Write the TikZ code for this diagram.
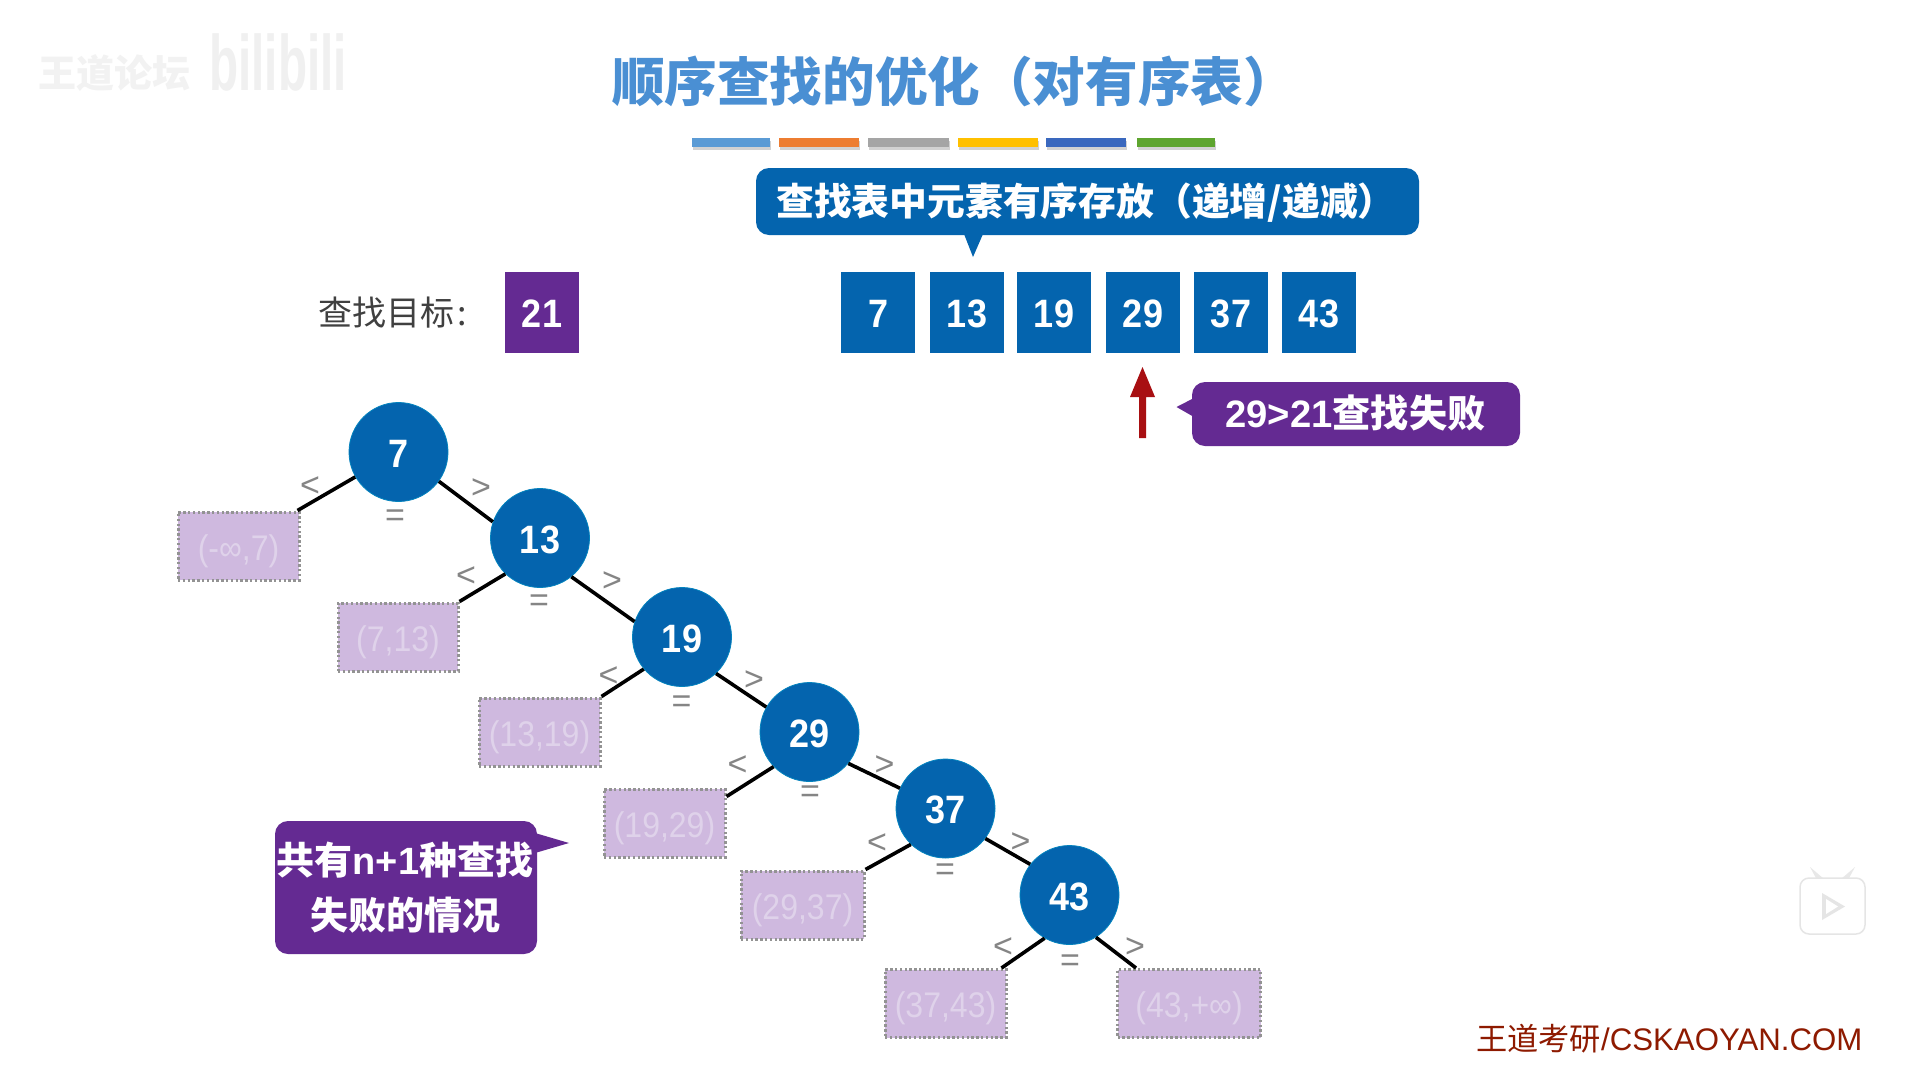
\documentclass[tikz,border=0pt]{standalone}
\usepackage{fontspec}
\setmainfont{Liberation Sans}
\newfontfamily\cjk{Noto Sans CJK SC}
\newcommand{\fsz}[1]{\fontsize{#1}{#1}\selectfont}
\newcommand{\numtxt}[1]{\raisebox{-15pt}[0pt][0pt]{\scalebox{1.0}[1.1]{#1}}}
\newcommand{\ivl}[1]{\raisebox{-14pt}[0pt][0pt]{\scalebox{0.97}[1.08]{#1}}}
\definecolor{nodeblue}{HTML}{0464AE}
\definecolor{deeppurple}{HTML}{642A92}
\definecolor{paleviolet}{HTML}{CFB9DF}
\definecolor{palertext}{HTML}{DFD2EA}
\definecolor{titleblue}{HTML}{4A8FD3}
\definecolor{arrowred}{HTML}{A80F12}
\definecolor{markgray}{HTML}{858585}
\definecolor{brandred}{HTML}{8E1A00}
\tikzset{
  x=1pt,y=-1pt,
  cellbox/.style={rectangle,fill=nodeblue,minimum width=74pt,minimum height=81pt,inner sep=0pt,text=white,font=\bfseries\fsz{36}},
  keybox/.style={cellbox,fill=deeppurple},
  circnode/.style={circle,fill=nodeblue,draw=nodeblue!80!cyan,line width=0.8pt,minimum size=99pt,inner sep=0pt,text=white,font=\bfseries\fsz{36}},
  failbox/.style={rectangle,fill=paleviolet,draw=gray!85,line width=3pt,dash pattern=on 2.4pt off 2.4pt,inner sep=0pt,minimum height=68pt,text=palertext,font=\fsz{33}},
  edgeline/.style={line width=3.6pt,black},
  relmark/.style={text=markgray,font=\fsz{34},inner sep=0pt},
  calloutbody/.style={rectangle,rounded corners=13pt,inner sep=0pt},
  calltext/.style={text=white,inner sep=0pt,align=center,font=\bfseries\fsz{38}},
  barbase/.style={fill=gray!35},
}
\begin{document}
\begin{tikzpicture}
\useasboundingbox (0,0) rectangle (1905,1066);
\fill[white] (0,0) rectangle (1905,1066);

% watermarks
\node[text=black!5,font=\cjk\bfseries\fsz{38},inner sep=0pt] (wm1) at (114,73) {王道论坛};
\node[text=black!6,font=\bfseries\fsz{56},inner sep=0pt] (wm2) at (278,62) {\scalebox{0.85}[1.4]{bilibili}};

% title
\node[text=titleblue,font=\cjk\bfseries\fsz{52.6},inner sep=0pt] (title) at (954,81) {顺序查找的优化（对有序表）};

% colour bars
\foreach \a/\b/\c in {692/770/5B9BD5,779/859/ED7D31,868/949/A5A5A5,958/1038/FFC000,1046/1126/3A68BE,1137/1215/5EA52F}{
  \definecolor{barcol}{HTML}{\c}
  \fill[barbase] (\a+1,141) rectangle (\b+1,150);
  \fill[barcol] (\a,138) rectangle (\b,147);
}

% target
\node[text=black!75,font=\cjk\fsz{34},inner sep=0pt] (lbl) at (393,313) {查找目标\hspace{3pt}:};
\node[keybox] (key) at (542,312) {\numtxt{21}};

% array
\foreach \n/\cx/\v in {a/878/7,b/967/13,c/1054/19,d/1143/29,e/1231/37,f/1319/43}{
  \node[cellbox] (\n) at (\cx,312) {\numtxt{\v}};
}

% top callout
\fill[nodeblue] (964,234) -- (973,257) -- (983,234) -- cycle;
\node[calloutbody,fill=nodeblue,minimum width=663pt,minimum height=67pt] (topc) at (1087.5,201.5) {};
\node[calltext,font=\cjk\bfseries\fsz{37.8}] at (1086,203) {查找表中元素有序存放（递增/递减）};

% pointer arrow
\coordinate (ptail) at (1142.5,438);
\coordinate (phead) at (1142.5,367);
\fill[arrowred] (1139,438) -- (1139,397) -- (1130,397) -- (phead) -- (1155,397) -- (1146,397) -- (1146,438) -- cycle;

% failure callout
\fill[deeppurple] (1194,398) -- (1176.5,407) -- (1194,417) -- cycle;
\node[calloutbody,fill=deeppurple,minimum width=328pt,minimum height=64pt] (failc) at (1356,414) {};
\node[calltext] at (1355.5,413) {\fsz{38.2}29>21{\cjk\bfseries 查找失败}};

% n+1 callout
\fill[deeppurple] (535,833) -- (569,843) -- (535,853) -- cycle;
\node[calloutbody,fill=deeppurple,minimum width=262pt,minimum height=133pt] (nc) at (406,887.5) {};
\node[calltext] at (405,860) {{\cjk\bfseries 共有}n+1{\cjk\bfseries 种查找}};
\node[calltext,font=\cjk\bfseries\fsz{38}] at (405,915) {失败的情况};

% failure intervals
\node[failbox,minimum width=121pt] (r1) at (238.5,546) {\ivl{(-∞,7)}};
\node[failbox,minimum width=120pt] (r2) at (398,637) {\ivl{(7,13)}};
\node[failbox,minimum width=121pt] (r3) at (539.5,732) {\ivl{(13,19)}};
\node[failbox,minimum width=121pt] (r4) at (664.5,823) {\ivl{(19,29)}};
\node[failbox,minimum width=123pt] (r5) at (802.5,905) {\ivl{(29,37)}};
\node[failbox,minimum width=121pt] (r6) at (945.5,1003.5) {\ivl{(37,43)}};
\node[failbox,minimum width=143pt] (r7) at (1189,1003.5) {\ivl{(43,+∞)}};

% tree nodes
\node[circnode] (c7) at (398.5,452) {\numtxt{7}};
\node[circnode] (c13) at (540,538) {\numtxt{13}};
\node[circnode] (c19) at (682,637) {\numtxt{19}};
\node[circnode] (c29) at (809.5,732) {\numtxt{29}};
\node[circnode] (c37) at (945.5,808.5) {\numtxt{37}};
\node[circnode] (c43) at (1069.5,895) {\numtxt{43}};

% edges
\draw[edgeline] (c7.210) -- ([xshift=-3pt]r1.north east);
\draw[edgeline] (c7.-36) -- (c13.161);
\draw[edgeline] (c13.226) -- (r2.north east);
\draw[edgeline] (c13.-51) -- (c19.162);
\draw[edgeline] (c19.220) -- (r3.north east);
\draw[edgeline] (c19.-47) -- (c29.150);
\draw[edgeline] (c29.224) -- ([yshift=-9pt]r4.north east);
\draw[edgeline] (c29.-39) -- (c37.156);
\draw[edgeline] (c37.226) -- (r5.north east);
\draw[edgeline] (c37.-37) -- (c43.142);
\draw[edgeline] (c43.240) -- ([xshift=-6pt]r6.north east);
\draw[edgeline] (c43.-58) -- ([xshift=20pt]r7.north west);

% relation marks
\foreach \i/\lx/\ly/\gx/\gy/\ex/\ey in {
  1/310/487/481/489/395/518,
  2/466/577/612/582/539/603,
  3/608.5/677/754/681/681.5/704,
  4/737.5/766/884.5/766/810/794,
  5/877/844/1020.5/843/945/872,
  6/1003/948/1135/948/1070/963}{
  \node[relmark] (lt\i) at (\lx,\ly) {<};
  \node[relmark] (gt\i) at (\gx,\gy) {>};
  \node[relmark] (eq\i) at (\ex,\ey) {=};
}

% play badge
\fill[black!9] (1817,880) -- (1810,867) -- (1824,879) -- cycle;
\fill[black!9] (1848,880) -- (1855,867) -- (1841,879) -- cycle;
\filldraw[fill=white,draw=black!10,line width=1.5pt,rounded corners=9pt] (1800,878) rectangle (1865,934);
\fill[black!10] (1822,893) -- (1845,906.5) -- (1822,920) -- cycle;
\fill[white] (1826,899) -- (1838,906.5) -- (1826,914) -- cycle;

% brand
\node[text=brandred,font=\fsz{31.2},inner sep=0pt,anchor=east] (brand) at (1862.5,1039) {{\cjk 王道考研}/CSKAOYAN.COM};
\end{tikzpicture}
\end{document}
